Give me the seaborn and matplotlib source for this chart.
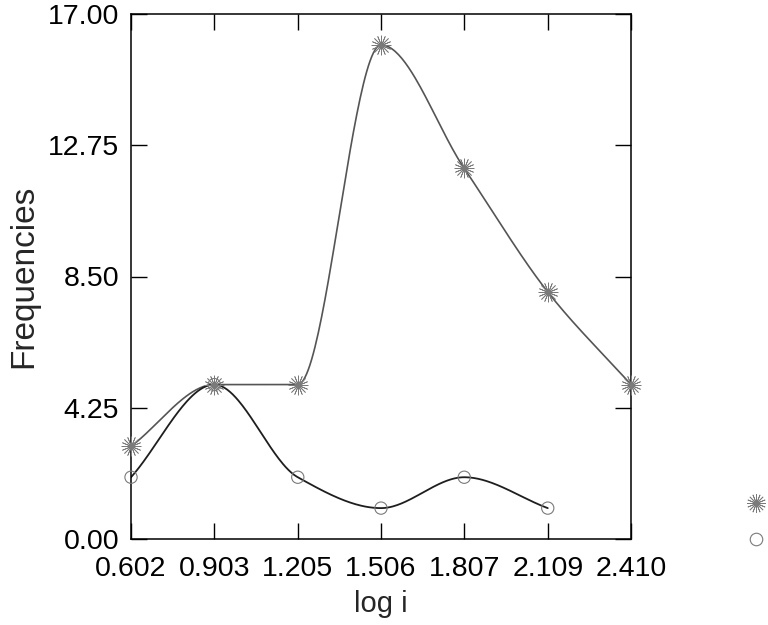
import numpy as np
import pandas as pd
import matplotlib
matplotlib.use("Agg")
import matplotlib.pyplot as plt
from matplotlib.lines import Line2D
import seaborn as sns

# values
log_i = [0.602, 0.903, 1.205, 1.506, 1.807, 2.109, 2.410]
freq_star = [3.0, 5.0, 5.0, 16.0, 12.0, 8.0, 5.0]
freq_circle = [2.0, 5.0, 2.0, 1.0, 2.0, 1.0]
x_ticks = [0.602, 0.903, 1.205, 1.506, 1.807, 2.109, 2.410]
y_ticks = [0.00, 4.25, 8.50, 12.75, 17.00]

STAR = (16, 2, 0)
STAR_LINE = "#555555"
CIRCLE_LINE = "#1e1e1e"
MARKER_GRAY = "#7a7a7a"


def pchip(x, y, xs):
    # monotone cubic hermite, only used to draw the smooth line
    x = np.asarray(x, float)
    y = np.asarray(y, float)
    h = np.diff(x)
    d = np.diff(y) / h
    n = len(x)
    m = np.zeros(n)
    for k in range(1, n - 1):
        if d[k - 1] * d[k] > 0:
            w1 = 2 * h[k] + h[k - 1]
            w2 = h[k] + 2 * h[k - 1]
            m[k] = (w1 + w2) / (w1 / d[k - 1] + w2 / d[k])
    m[0] = d[0]
    m[-1] = d[-1]
    idx = np.clip(np.searchsorted(x, xs) - 1, 0, n - 2)
    t = (xs - x[idx]) / h[idx]
    h00 = 2 * t**3 - 3 * t**2 + 1
    h10 = t**3 - 2 * t**2 + t
    h01 = -2 * t**3 + 3 * t**2
    h11 = t**3 - t**2
    return h00 * y[idx] + h10 * h[idx] * m[idx] + h01 * y[idx + 1] + h11 * h[idx] * m[idx + 1]


df_star = pd.DataFrame({"log i": log_i, "Frequencies": freq_star})
df_circle = pd.DataFrame({"log i": log_i[:len(freq_circle)], "Frequencies": freq_circle})

sns.set_style("ticks")
plt.rcParams["font.family"] = ["Liberation Sans", "DejaVu Sans"]

fig = plt.figure(figsize=(7.68, 6.25), dpi=100)
ax = fig.add_axes([0.1706, 0.1376, 0.651, 0.84])

xs = np.linspace(log_i[0], log_i[-1], 300)
ax.plot(xs, pchip(df_star["log i"], df_star["Frequencies"], xs), color=STAR_LINE, lw=1.2)
xs2 = np.linspace(df_circle["log i"].iloc[0], df_circle["log i"].iloc[-1], 300)
ax.plot(xs2, pchip(df_circle["log i"], df_circle["Frequencies"], xs2), color=CIRCLE_LINE, lw=1.3)

sns.scatterplot(data=df_star, x="log i", y="Frequencies", marker=STAR, s=190,
                color=MARKER_GRAY, edgecolor=MARKER_GRAY, linewidth=0.55, ax=ax, zorder=3,
                clip_on=False)
sns.scatterplot(data=df_circle, x="log i", y="Frequencies", marker="o", s=78,
                facecolor="none", edgecolor=MARKER_GRAY, linewidth=0.8, ax=ax, zorder=3,
                clip_on=False)

ax.set_xlim(log_i[0], log_i[-1])
ax.set_ylim(0, 17)
ax.set_xticks(x_ticks)
ax.set_xticklabels([f"{v:.3f}" for v in x_ticks])
ax.set_yticks(y_ticks)
ax.set_yticklabels([f"{v:.2f}" for v in y_ticks])
ax.tick_params(direction="in", length=11.5, width=1, labelsize=20.5, top=True, right=True,
               color="black", labelcolor="black")
ax.tick_params(axis="x", pad=12)
ax.tick_params(axis="y", pad=8.6)
for sp in ax.spines.values():
    sp.set_visible(True)
    sp.set_color("black")
    sp.set_linewidth(1.1)

ax.set_xlabel("log i", fontsize=21, labelpad=6)
ax.set_ylabel("Frequencies", fontsize=24, labelpad=6)

handles = [
    Line2D([], [], linestyle="none", marker=STAR, markersize=13.5, color=MARKER_GRAY, markeredgewidth=0.55),
    Line2D([], [], linestyle="none", marker="o", markersize=9, markerfacecolor="none",
           markeredgecolor=MARKER_GRAY, markeredgewidth=0.8),
]
fig.legend(handles, ["", ""], loc="center", bbox_to_anchor=(0.984, 0.163), frameon=False,
           handlelength=1, handletextpad=0, labelspacing=0.95, fontsize=14, borderpad=0)

fig.savefig("out.png", dpi=100)
